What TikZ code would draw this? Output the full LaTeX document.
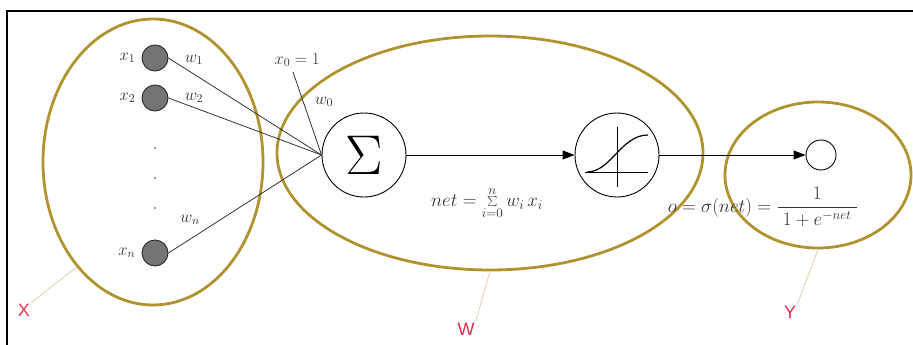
\documentclass[tikz,border=0pt]{standalone}
\usepackage{fix-cm}
\usepackage{fontspec}
\newfontfamily\labfont{Liberation Sans}
\usetikzlibrary{shapes.geometric,arrows.meta}
\definecolor{gold}{HTML}{B0922E}
\definecolor{labred}{HTML}{E0304E}
\definecolor{lead}{HTML}{E6D3AE}
\definecolor{ink}{HTML}{333333}
\tikzset{
  grp/.style={draw=gold,line width=2.8pt,ellipse,inner sep=0pt},
  inp/.style={circle,draw=ink!80!black,fill=gray!80!black!90,line width=0.9pt,minimum size=26pt,inner sep=0pt},
  unit/.style={circle,draw=black,line width=0.9pt,inner sep=0pt},
  edge/.style={draw=ink,line width=0.8pt},
  arr/.style={draw=black,line width=0.9pt,-{Triangle[length=12pt,width=9pt]}},
  lbl/.style={text=ink,font=\fontsize{17}{19}\selectfont,inner sep=1pt},
  frm/.style={text=ink,font=\fontsize{19}{21}\selectfont,inner sep=1pt},
  grplab/.style={text=labred,font=\labfont\fontsize{18}{20}\selectfont,inner sep=1pt},
  leader/.style={draw=lead,line width=0.9pt}
}
\begin{document}
\begin{tikzpicture}[x=1pt,y=-1pt]
\useasboundingbox (0,0) rectangle (913,345);
\draw[line width=1.4pt] (7,345) -- (7,11) -- (913,11);

% group ellipses
\node[grp,minimum width=220pt,minimum height=286pt] (X) at (153,162) {};
\node[grp,minimum width=426pt,minimum height=234pt] (W) at (490,153) {};
\node[grp,minimum width=186pt,minimum height=146pt] (Y) at (818,175) {};

% inputs
\node[inp] (x1) at (155,58) {};
\node[inp] (x2) at (155,98) {};
\node[inp] (xn) at (155,253) {};
\node[lbl,left=5pt] (lx1) at (x1.west) {$x_1$};
\node[lbl,left=5pt] (lx2) at (x2.west) {$x_2$};
\node[lbl,left=5pt] (lxn) at (xn.west) {$x_n$};
\foreach \y [count=\i] in {148,178,208} \node[fill=ink,circle,inner sep=0.7pt] (d\i) at (155,\y) {};

% summation and activation units
\node[unit,minimum size=84pt] (sum) at (364,155) {\fontsize{56}{56}\selectfont$\Sigma$};
\node[unit,minimum size=84pt] (sig) at (617,155) {};
\node[unit,minimum size=30pt] (out) at (821,155) {};

% weights
\draw[edge] (x1.east) -- (sum.west);
\draw[edge] (x2.east) -- (sum.west);
\draw[edge] (xn.east) -- (sum.west);
\node[lbl] (w1) at (194,60) {$w_1$};
\node[lbl] (w2) at (194,98) {$w_2$};
\node[lbl] (wn) at (190,220) {$w_n$};
\node[lbl] (x0) at (297,60) {$x_0 = 1$};
\coordinate (x0end) at (293,72);
\draw[edge] (x0end) -- (sum.west);
\node[lbl] (w0) at (324,102) {$w_0$};

% sigmoid glyph
\draw[line width=0.9pt] ([xshift=-32pt,yshift=-17pt]sig.center) -- ([xshift=31pt,yshift=-17pt]sig.center);
\draw[line width=0.9pt] ([yshift=28pt]sig.center) -- ([yshift=-32pt]sig.center);
\draw[line width=1.2pt] ([xshift=-30pt,yshift=-17pt]sig.center) .. controls ([xshift=-6pt,yshift=-17pt]sig.center) and ([xshift=4pt,yshift=20pt]sig.center) .. ([xshift=31pt,yshift=20pt]sig.center);

% arrows
\draw[arr] (sum.east) -- (sig.west);
\draw[arr] (sig.east) -- (out.west);

% formulas
\node[frm] (net) at (487,203) {$net = \sum\limits_{i=0}^{n} w_i\, x_i$};
\node[frm] (sigma) at (763,207) {$o = \sigma(net) = {\displaystyle\frac{1}{\;1+e^{-net}\;}}$};

% group labels
\node[grplab] (lX) at (24,310) {X};
\node[grplab] (lW) at (466,329) {W};
\node[grplab] (lY) at (790,312) {Y};
\draw[leader] (lX.north east) -- (X.234);
\draw[leader] (lW.north east) -- (W.south);
\draw[leader] (lY.north east) -- (Y.south);
\end{tikzpicture}
\end{document}
